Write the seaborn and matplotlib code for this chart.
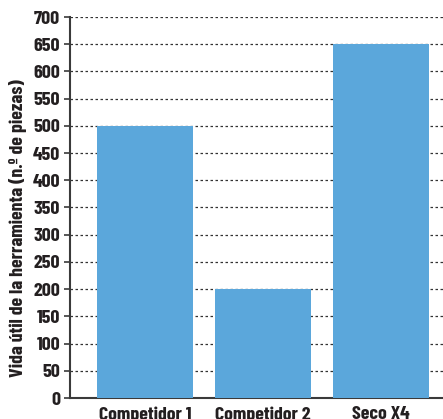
import matplotlib
matplotlib.use("Agg")
import matplotlib.pyplot as plt
import seaborn as sns
import pandas as pd

categories = ["Competidor 1", "Competidor 2", "Seco X4"]
values = [500, 200, 650]
yticks = list(range(0, 701, 50))

sns.set_theme(style="white")
plt.rcParams["font.family"] = ["Barlow Condensed", "DejaVu Sans"]

txt = "#231f20"
fs = 14.3
df = pd.DataFrame({"cat": categories, "val": values})
fig = plt.figure(figsize=(4.43, 4.19), dpi=100)
ax = fig.add_axes([70/443, 21/419, 1 - 70/443, (398-17)/419])
sns.barplot(data=df, x="cat", y="val", color="#5ba7db", saturation=1, width=0.81,
            linewidth=0, ax=ax, zorder=3)
ax.set_xlim(-0.636, 2.525)
ax.set_ylim(0, 700)
ax.set_yticks(yticks)
ax.set_yticklabels([str(t) for t in yticks], fontsize=fs, fontweight="bold", color=txt)
ax.set_xticks(range(3))
ax.set_xticklabels(categories, fontsize=fs, fontweight="bold", color=txt)
ax.set_xlabel("")
ax.set_ylabel("Vida útil de la herramienta (n.º de piezas)", fontsize=fs, fontweight="bold",
              color=txt)
ax.yaxis.set_label_coords(-0.115, 0.445)
for y in yticks[1:]:
    ax.axhline(y, color="#333333", lw=0.9, ls=(0, (2, 2)), zorder=1)
for s in ["top", "right"]:
    ax.spines[s].set_visible(False)
for s in ["left", "bottom"]:
    ax.spines[s].set_color("#3a3a3a")
    ax.spines[s].set_linewidth(1.5)
ax.tick_params(axis="y", left=True, length=4, width=1.2, color="#3a3a3a", pad=3)
ax.tick_params(axis="x", bottom=False, pad=0)
fig.savefig("out.png", dpi=100)
